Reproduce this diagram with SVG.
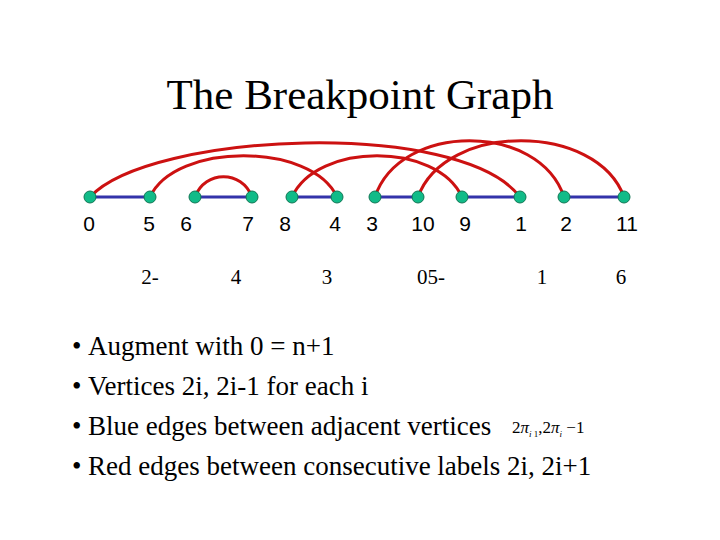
<svg xmlns="http://www.w3.org/2000/svg" width="720" height="540" viewBox="0 0 720 540">
<style>
.t{font-family:"Liberation Serif",serif;fill:#000}
.s{font-family:"Liberation Sans",sans-serif;font-size:21px;fill:#000;text-anchor:middle}
.b{stroke:#3333aa;stroke-width:3}
.r{stroke:#cc1111;stroke-width:3;fill:none}
.v{fill:#11bb88;stroke:#117755;stroke-width:1}
</style>
<rect width="720" height="540" fill="#fff"/>
<text class="t" x="360" y="109" font-size="43" text-anchor="middle">The Breakpoint Graph</text>
<g id="connectors">
<line class="b" x1="90" y1="197" x2="150" y2="197"/>
<line class="b" x1="195" y1="197" x2="252" y2="197"/>
<line class="b" x1="292" y1="197" x2="337" y2="197"/>
<line class="b" x1="375" y1="197" x2="418" y2="197"/>
<line class="b" x1="462" y1="197" x2="520" y2="197"/>
<line class="b" x1="564" y1="197" x2="624" y2="197"/>
<path class="r" d="M90 197 C150 132 460 118 520 197"/>
<path class="r" d="M150 197 C175 142 312 142 337 197"/>
<path class="r" d="M195 197 C205 170 242 170 252 197"/>
<path class="r" d="M292 197 C317 142 437 142 462 197"/>
<path class="r" d="M375 197 C400 122 539 122 564 197"/>
<path class="r" d="M418 197 C445 122 597 122 624 197"/>
</g>
<g id="nodes">
<g id="n0"><circle class="v" cx="90" cy="197" r="6"/><text class="s" x="89" y="231">0</text></g>
<g id="n5"><circle class="v" cx="150" cy="197" r="6"/><text class="s" x="149" y="231">5</text></g>
<g id="n6"><circle class="v" cx="195" cy="197" r="6"/><text class="s" x="186" y="231">6</text></g>
<g id="n7"><circle class="v" cx="252" cy="197" r="6"/><text class="s" x="248" y="231">7</text></g>
<g id="n8"><circle class="v" cx="292" cy="197" r="6"/><text class="s" x="285" y="231">8</text></g>
<g id="n4"><circle class="v" cx="337" cy="197" r="6"/><text class="s" x="335" y="231">4</text></g>
<g id="n3"><circle class="v" cx="375" cy="197" r="6"/><text class="s" x="372" y="231">3</text></g>
<g id="n10"><circle class="v" cx="418" cy="197" r="6"/><text class="s" x="423" y="231">10</text></g>
<g id="n9"><circle class="v" cx="462" cy="197" r="6"/><text class="s" x="465" y="231">9</text></g>
<g id="n1"><circle class="v" cx="520" cy="197" r="6"/><text class="s" x="521" y="231">1</text></g>
<g id="n2"><circle class="v" cx="564" cy="197" r="6"/><text class="s" x="566" y="231">2</text></g>
<g id="n11"><circle class="v" cx="624" cy="197" r="6"/><text class="s" x="627" y="231">11</text></g>
</g>
<g class="t" font-size="21" text-anchor="middle">
<text x="150" y="284">2-</text>
<text x="236" y="284">4</text>
<text x="327" y="284">3</text>
<text x="431" y="284">05-</text>
<text x="542" y="284">1</text>
<text x="621" y="284">6</text>
</g>
<g class="t" font-size="27">
<text x="72" y="355">•</text><text x="88" y="355">Augment with 0 = n+1</text>
<text x="72" y="395">•</text><text x="88" y="395">Vertices 2i, 2i-1 for each i</text>
<text x="72" y="435">•</text><text x="88" y="435">Blue edges between adjacent vertices</text>
<text x="72" y="475">•</text><text x="88" y="475">Red edges between consecutive labels 2i, 2i+1</text>
</g>
<text class="t" x="512" y="433" font-size="17">2<tspan font-style="italic">π</tspan><tspan font-size="9" font-style="italic" dy="4">i</tspan><tspan font-size="9"> 1</tspan><tspan dy="-4">,2</tspan><tspan font-style="italic">π</tspan><tspan font-size="9" font-style="italic" dy="4">i</tspan><tspan dy="-4"> −1</tspan></text>
</svg>
